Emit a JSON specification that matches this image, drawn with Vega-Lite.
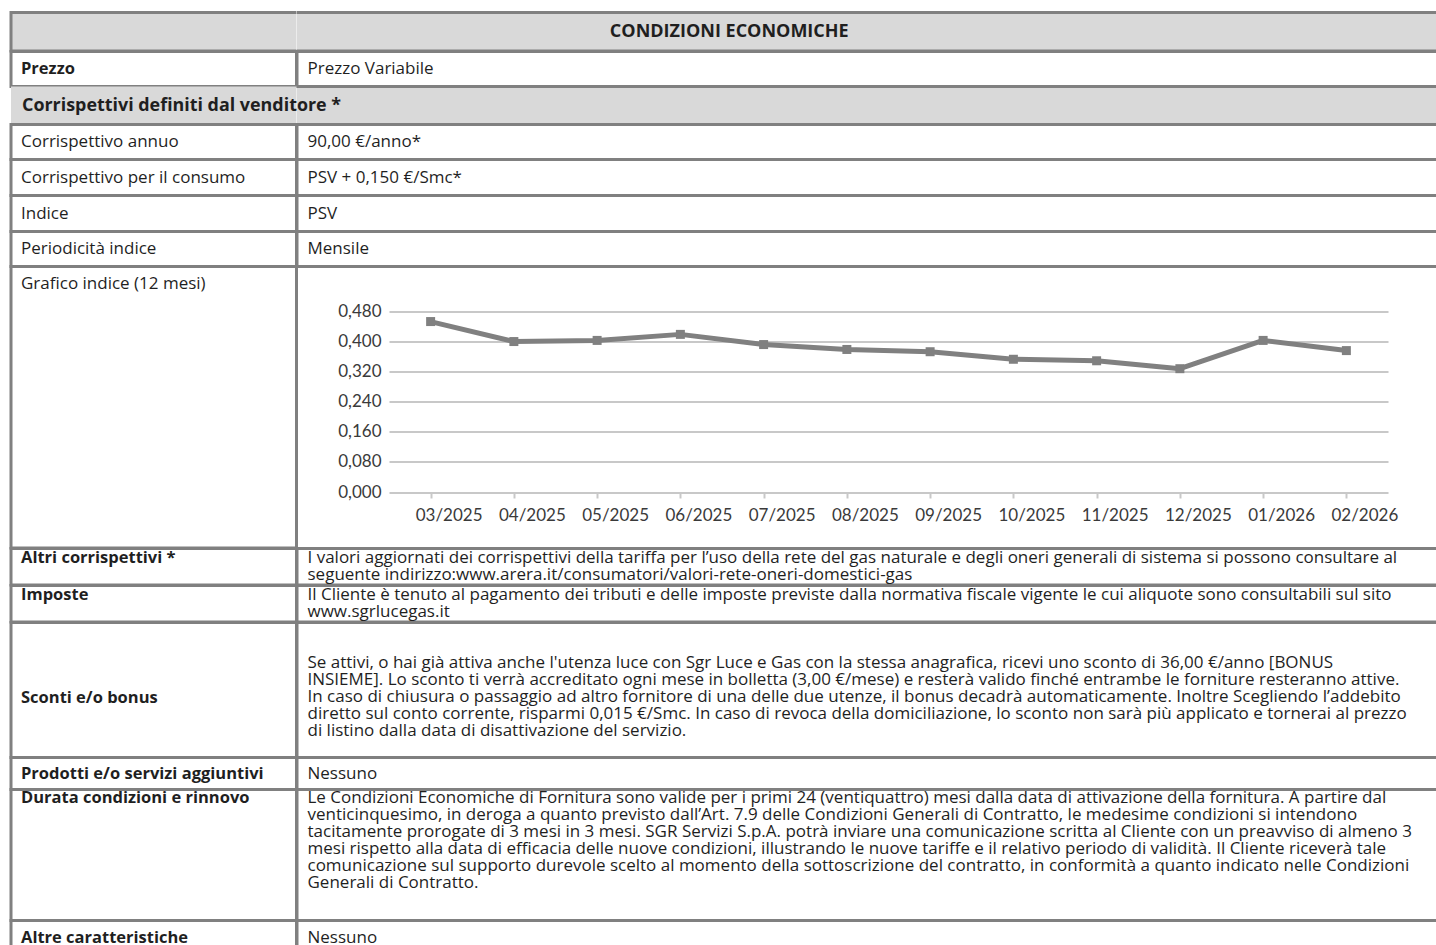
{
  "$schema": "https://vega.github.io/schema/vega-lite/v6.json",
  "background": "white",
  "padding": {"left": 9, "top": 10.5, "right": 0, "bottom": 0},
  "columns": 2,
  "align": "each",
  "bounds": "flush",
  "spacing": 0,
  "config": {
    "view": {"stroke": "#808080", "strokeWidth": 3},
    "text": {"font": "Open Sans", "fontSize": 17, "color": "#1f1f1f", "lineHeight": 17},
    "axis": {"labelFont": "Lato"}
  },
  "concat": [
    {"width": 285.5, "height": 38.5, "view": {"fill": "#d9d9d9", "stroke": "#808080", "strokeWidth": 3, "strokeOpacity": 1, "strokeDash": [285.5, 38.5, 324.5]}, "data": {"values": [{"t": ""}]},
     "mark": {"type": "text"}, "encoding": {"text": {"field": "t"}}},
    {"width": 1150, "height": 38.5, "view": {"fill": "#d9d9d9", "stroke": "#808080", "strokeWidth": 3, "strokeOpacity": 1, "strokeDash": [2338.5, 38.5]}, "data": {"values": [{"t": "CONDIZIONI ECONOMICHE"}]},
     "mark": {"type": "text", "align": "center", "baseline": "middle", "fontWeight": "bold", "fontSize": 18, "dx": 432.25},
     "encoding": {"text": {"field": "t"}, "x": {"datum": 0, "scale": {"domain": [0, 1]}, "axis": null}, "y": {"datum": 0.5, "scale": {"domain": [0, 1]}, "axis": null}}},

    {"width": 285.5, "height": 35, "data": {"values": [{"t": "Prezzo"}]},
     "mark": {"type": "text", "align": "left", "baseline": "middle", "dx": 10, "fontWeight": "bold", "fontSize": 16.5},
     "encoding": {"text": {"field": "t"}, "x": {"datum": 0, "scale": {"domain": [0, 1]}, "axis": null}, "y": {"datum": 0.5, "scale": {"domain": [0, 1]}, "axis": null}}},
    {"width": 1150, "height": 35, "data": {"values": [{"t": "Prezzo Variabile"}]},
     "mark": {"type": "text", "align": "left", "baseline": "middle", "dx": 10.5},
     "encoding": {"text": {"field": "t"}, "x": {"datum": 0, "scale": {"domain": [0, 1]}, "axis": null}, "y": {"datum": 0.5, "scale": {"domain": [0, 1]}, "axis": null}}},

    {"width": 285.5, "height": 38, "view": {"fill": "#d9d9d9", "strokeDash": [285.5, 38, 324]}, "data": {"values": [{"t": ""}]},
     "mark": {"type": "text"}, "encoding": {"text": {"field": "t"}}},
    {"width": 1150, "height": 38, "view": {"fill": "#d9d9d9", "strokeDash": [2338, 38]}, "data": {"values": [{"t": "Corrispettivi definiti dal venditore *"}]},
     "mark": {"type": "text", "align": "left", "baseline": "middle", "dx": -275, "fontWeight": "bold", "fontSize": 17.9},
     "encoding": {"text": {"field": "t"}, "x": {"datum": 0, "scale": {"domain": [0, 1]}, "axis": null}, "y": {"datum": 0.5, "scale": {"domain": [0, 1]}, "axis": null}}},

    {"width": 285.5, "height": 35, "data": {"values": [{"t": "Corrispettivo annuo"}]},
     "mark": {"type": "text", "align": "left", "baseline": "middle", "dx": 10},
     "encoding": {"text": {"field": "t"}, "x": {"datum": 0, "scale": {"domain": [0, 1]}, "axis": null}, "y": {"datum": 0.5, "scale": {"domain": [0, 1]}, "axis": null}}},
    {"width": 1150, "height": 35, "data": {"values": [{"t": "90,00 €/anno*"}]},
     "mark": {"type": "text", "align": "left", "baseline": "middle", "dx": 10.5},
     "encoding": {"text": {"field": "t"}, "x": {"datum": 0, "scale": {"domain": [0, 1]}, "axis": null}, "y": {"datum": 0.5, "scale": {"domain": [0, 1]}, "axis": null}}},

    {"width": 285.5, "height": 36, "data": {"values": [{"t": "Corrispettivo per il consumo"}]},
     "mark": {"type": "text", "align": "left", "baseline": "middle", "dx": 10},
     "encoding": {"text": {"field": "t"}, "x": {"datum": 0, "scale": {"domain": [0, 1]}, "axis": null}, "y": {"datum": 0.5, "scale": {"domain": [0, 1]}, "axis": null}}},
    {"width": 1150, "height": 36, "data": {"values": [{"t": "PSV + 0,150 €/Smc*"}]},
     "mark": {"type": "text", "align": "left", "baseline": "middle", "dx": 10.5},
     "encoding": {"text": {"field": "t"}, "x": {"datum": 0, "scale": {"domain": [0, 1]}, "axis": null}, "y": {"datum": 0.5, "scale": {"domain": [0, 1]}, "axis": null}}},

    {"width": 285.5, "height": 36, "data": {"values": [{"t": "Indice"}]},
     "mark": {"type": "text", "align": "left", "baseline": "middle", "dx": 10},
     "encoding": {"text": {"field": "t"}, "x": {"datum": 0, "scale": {"domain": [0, 1]}, "axis": null}, "y": {"datum": 0.5, "scale": {"domain": [0, 1]}, "axis": null}}},
    {"width": 1150, "height": 36, "data": {"values": [{"t": "PSV"}]},
     "mark": {"type": "text", "align": "left", "baseline": "middle", "dx": 10.5},
     "encoding": {"text": {"field": "t"}, "x": {"datum": 0, "scale": {"domain": [0, 1]}, "axis": null}, "y": {"datum": 0.5, "scale": {"domain": [0, 1]}, "axis": null}}},

    {"width": 285.5, "height": 35, "data": {"values": [{"t": "Periodicità indice"}]},
     "mark": {"type": "text", "align": "left", "baseline": "middle", "dx": 10},
     "encoding": {"text": {"field": "t"}, "x": {"datum": 0, "scale": {"domain": [0, 1]}, "axis": null}, "y": {"datum": 0.5, "scale": {"domain": [0, 1]}, "axis": null}}},
    {"width": 1150, "height": 35, "data": {"values": [{"t": "Mensile"}]},
     "mark": {"type": "text", "align": "left", "baseline": "middle", "dx": 10.5},
     "encoding": {"text": {"field": "t"}, "x": {"datum": 0, "scale": {"domain": [0, 1]}, "axis": null}, "y": {"datum": 0.5, "scale": {"domain": [0, 1]}, "axis": null}}},

    {"width": 285.5, "height": 281.5, "data": {"values": [{"t": "Grafico indice (12 mesi)"}]},
     "mark": {"type": "text", "align": "left", "baseline": "middle", "dx": 10, "dy": 17.5},
     "encoding": {"text": {"field": "t"}, "x": {"datum": 0, "scale": {"domain": [0, 1]}, "axis": null}, "y": {"datum": 0, "scale": {"domain": [0, 1], "reverse": true}, "axis": null}}},
    {"width": 1150, "height": 281.5, "view": {"stroke": null},
     "data": {"values": [
       {"mese": "03/2025", "psv": 0.452},
       {"mese": "04/2025", "psv": 0.399},
       {"mese": "05/2025", "psv": 0.402},
       {"mese": "06/2025", "psv": 0.418},
       {"mese": "07/2025", "psv": 0.391},
       {"mese": "08/2025", "psv": 0.378},
       {"mese": "09/2025", "psv": 0.372},
       {"mese": "10/2025", "psv": 0.352},
       {"mese": "11/2025", "psv": 0.348},
       {"mese": "12/2025", "psv": 0.327},
       {"mese": "01/2026", "psv": 0.402},
       {"mese": "02/2026", "psv": 0.375}
     ]},
     "encoding": {
       "x": {"field": "mese", "type": "ordinal", "sort": null,
             "scale": {"type": "point", "padding": 0.5, "range": [92, 1091]},
             "axis": {"title": null, "labelAngle": 0, "labelFontSize": 17, "labelColor": "#3a3a3a", "labelOffset": 18, "labelPadding": 9, "domain": false, "ticks": true, "tickColor": "#c8c8c8", "tickWidth": 2, "tickSize": 6, "grid": false, "offset": -56}},
       "y": {"field": "psv", "type": "quantitative",
             "scale": {"domain": [0, 0.48], "nice": false, "range": [225.5, 44.5]},
             "axis": {"title": null, "values": [0, 0.08, 0.16, 0.24, 0.32, 0.4, 0.48], "labelExpr": "replace(format(datum.value, '.3f'), '.', ',')", "grid": true, "gridColor": "#c8c8c8", "gridWidth": 2, "domain": false, "ticks": false, "tickSize": 0, "labelPadding": 8, "labelFontSize": 17, "labelColor": "#3a3a3a", "offset": -92}}
     },
     "layer": [
       {"mark": {"type": "line", "color": "#808080", "strokeWidth": 5, "strokeJoin": "round"}},
       {"mark": {"type": "point", "shape": "square", "filled": true, "size": 81, "color": "#808080", "opacity": 1}}
     ]},

    {"width": 285.5, "height": 36.5, "data": {"values": [{"t": "Altri corrispettivi *"}]},
     "mark": {"type": "text", "align": "left", "baseline": "middle", "dx": 10, "dy": -8.5, "fontWeight": "bold", "fontSize": 16.5},
     "encoding": {"text": {"field": "t"}, "x": {"datum": 0, "scale": {"domain": [0, 1]}, "axis": null}, "y": {"datum": 0.5, "scale": {"domain": [0, 1]}, "axis": null}}},
    {"width": 1150, "height": 36.5, "data": {"values": [{"t": ["I valori aggiornati dei corrispettivi della tariffa per l’uso della rete del gas naturale e degli oneri generali di sistema si possono consultare al", "seguente indirizzo:www.arera.it/consumatori/valori-rete-oneri-domestici-gas"]}]},
     "mark": {"type": "text", "align": "left", "baseline": "middle", "dx": 10.5, "dy": -8.5},
     "encoding": {"text": {"field": "t"}, "x": {"datum": 0, "scale": {"domain": [0, 1]}, "axis": null}, "y": {"datum": 0.5, "scale": {"domain": [0, 1]}, "axis": null}}},

    {"width": 285.5, "height": 36.5, "data": {"values": [{"t": "Imposte"}]},
     "mark": {"type": "text", "align": "left", "baseline": "middle", "dx": 10, "dy": -8.5, "fontWeight": "bold", "fontSize": 16.5},
     "encoding": {"text": {"field": "t"}, "x": {"datum": 0, "scale": {"domain": [0, 1]}, "axis": null}, "y": {"datum": 0.5, "scale": {"domain": [0, 1]}, "axis": null}}},
    {"width": 1150, "height": 36.5, "data": {"values": [{"t": ["Il Cliente è tenuto al pagamento dei tributi e delle imposte previste dalla normativa fiscale vigente le cui aliquote sono consultabili sul sito", "www.sgrlucegas.it"]}]},
     "mark": {"type": "text", "align": "left", "baseline": "middle", "dx": 10.5, "dy": -8.5},
     "encoding": {"text": {"field": "t"}, "x": {"datum": 0, "scale": {"domain": [0, 1]}, "axis": null}, "y": {"datum": 0.5, "scale": {"domain": [0, 1]}, "axis": null}}},

    {"width": 285.5, "height": 135, "data": {"values": [{"t": "Sconti e/o bonus"}]},
     "mark": {"type": "text", "align": "left", "baseline": "middle", "dx": 10, "dy": 8, "fontWeight": "bold", "fontSize": 16.5},
     "encoding": {"text": {"field": "t"}, "x": {"datum": 0, "scale": {"domain": [0, 1]}, "axis": null}, "y": {"datum": 0.5, "scale": {"domain": [0, 1]}, "axis": null}}},
    {"width": 1150, "height": 135, "data": {"values": [{"t": ["Se attivi, o hai già attiva anche l'utenza luce con Sgr Luce e Gas con la stessa anagrafica, ricevi uno sconto di 36,00 €/anno [BONUS", "INSIEME]. Lo sconto ti verrà accreditato ogni mese in bolletta (3,00 €/mese) e resterà valido finché entrambe le forniture resteranno attive.", "In caso di chiusura o passaggio ad altro fornitore di una delle due utenze, il bonus decadrà automaticamente. Inoltre Scegliendo l’addebito", "diretto sul conto corrente, risparmi 0,015 €/Smc. In caso di revoca della domiciliazione, lo sconto non sarà più applicato e tornerai al prezzo", "di listino dalla data di disattivazione del servizio."]}]},
     "mark": {"type": "text", "align": "left", "baseline": "middle", "dx": 10.5, "dy": -27},
     "encoding": {"text": {"field": "t"}, "x": {"datum": 0, "scale": {"domain": [0, 1]}, "axis": null}, "y": {"datum": 0.5, "scale": {"domain": [0, 1]}, "axis": null}}},

    {"width": 285.5, "height": 32, "data": {"values": [{"t": "Prodotti e/o servizi aggiuntivi"}]},
     "mark": {"type": "text", "align": "left", "baseline": "middle", "dx": 10, "fontWeight": "bold", "fontSize": 16.5},
     "encoding": {"text": {"field": "t"}, "x": {"datum": 0, "scale": {"domain": [0, 1]}, "axis": null}, "y": {"datum": 0.5, "scale": {"domain": [0, 1]}, "axis": null}}},
    {"width": 1150, "height": 32, "data": {"values": [{"t": "Nessuno"}]},
     "mark": {"type": "text", "align": "left", "baseline": "middle", "dx": 10.5},
     "encoding": {"text": {"field": "t"}, "x": {"datum": 0, "scale": {"domain": [0, 1]}, "axis": null}, "y": {"datum": 0.5, "scale": {"domain": [0, 1]}, "axis": null}}},

    {"width": 285.5, "height": 131, "data": {"values": [{"t": "Durata condizioni e rinnovo"}]},
     "mark": {"type": "text", "align": "left", "baseline": "middle", "dx": 10, "dy": 8, "fontWeight": "bold", "fontSize": 16.5},
     "encoding": {"text": {"field": "t"}, "x": {"datum": 0, "scale": {"domain": [0, 1]}, "axis": null}, "y": {"datum": 0, "scale": {"domain": [0, 1], "reverse": true}, "axis": null}}},
    {"width": 1150, "height": 131, "data": {"values": [{"t": ["Le Condizioni Economiche di Fornitura sono valide per i primi 24 (ventiquattro) mesi dalla data di attivazione della fornitura. A partire dal", "venticinquesimo, in deroga a quanto previsto dall’Art. 7.9 delle Condizioni Generali di Contratto, le medesime condizioni si intendono", "tacitamente prorogate di 3 mesi in 3 mesi. SGR Servizi S.p.A. potrà inviare una comunicazione scritta al Cliente con un preavviso di almeno 3", "mesi rispetto alla data di efficacia delle nuove condizioni, illustrando le nuove tariffe e il relativo periodo di validità. Il Cliente riceverà tale", "comunicazione sul supporto durevole scelto al momento della sottoscrizione del contratto, in conformità a quanto indicato nelle Condizioni", "Generali di Contratto."]}]},
     "mark": {"type": "text", "align": "left", "baseline": "middle", "dx": 10.5, "dy": 8},
     "encoding": {"text": {"field": "t"}, "x": {"datum": 0, "scale": {"domain": [0, 1]}, "axis": null}, "y": {"datum": 0, "scale": {"domain": [0, 1], "reverse": true}, "axis": null}}},

    {"width": 285.5, "height": 35, "data": {"values": [{"t": "Altre caratteristiche"}]},
     "mark": {"type": "text", "align": "left", "baseline": "middle", "dx": 10, "fontWeight": "bold", "fontSize": 16.5},
     "encoding": {"text": {"field": "t"}, "x": {"datum": 0, "scale": {"domain": [0, 1]}, "axis": null}, "y": {"datum": 0.5, "scale": {"domain": [0, 1]}, "axis": null}}},
    {"width": 1150, "height": 35, "data": {"values": [{"t": "Nessuno"}]},
     "mark": {"type": "text", "align": "left", "baseline": "middle", "dx": 10.5},
     "encoding": {"text": {"field": "t"}, "x": {"datum": 0, "scale": {"domain": [0, 1]}, "axis": null}, "y": {"datum": 0.5, "scale": {"domain": [0, 1]}, "axis": null}}}
  ]
}
